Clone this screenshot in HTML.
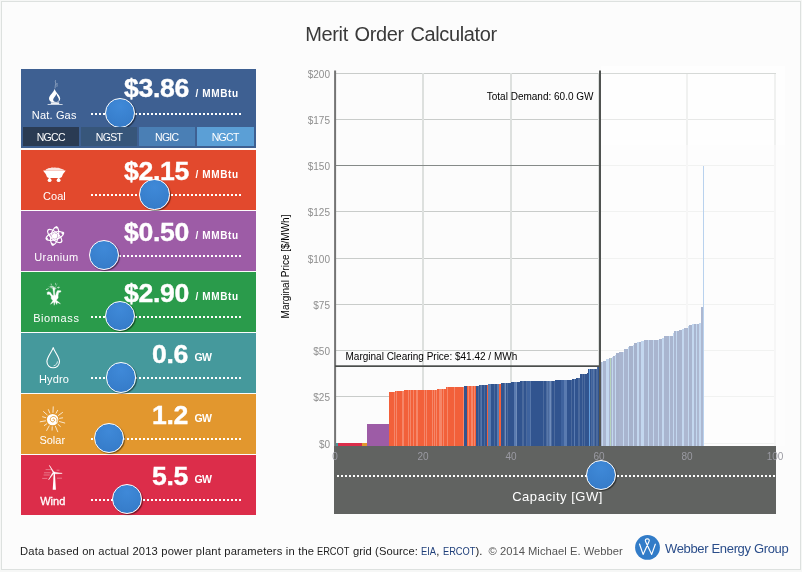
<!DOCTYPE html>
<html><head><meta charset="utf-8"><title>Merit Order Calculator</title>
<style>
html,body{margin:0;padding:0;}
body{width:802px;height:572px;overflow:hidden;background:#f6f7f6;font-family:"Liberation Sans",sans-serif;position:relative;}
#frame{position:absolute;left:1px;top:1px;width:798px;height:567px;border:1px solid #dde1df;background:#fcfcfc;}
#title{position:absolute;left:0;width:802px;top:22.4px;text-align:center;font-size:20px;line-height:24px;color:#3a3a3a;letter-spacing:-0.38px;word-spacing:1.5px;}
.panel{position:absolute;left:21px;width:235px;height:60px;color:#fff;}
.panel .lbl{position:absolute;left:0;width:67px;text-align:center;top:39.5px;font-size:11px;line-height:13px;white-space:nowrap;}
.panel .val{position:absolute;top:5.5px;font-weight:bold;font-size:26.6px;line-height:30px;white-space:nowrap;letter-spacing:-0.3px;-webkit-text-stroke:0.4px #fff;}
.panel .unit{position:absolute;top:17.6px;font-weight:bold;font-size:10px;line-height:13px;white-space:nowrap;letter-spacing:0.62px;}
.panel .gw{top:18px;font-size:10.5px;letter-spacing:-0.6px;}
.panel .dots{position:absolute;left:70px;width:150px;top:44px;height:0;border-top:2px dotted #fff;}
.handle{position:absolute;width:28.4px;height:28.4px;border-radius:50%;border:1px solid #fff;background:radial-gradient(circle at 50% 25%,#3f89d8 0%,#3a82d0 45%,#3479c6 100%);box-shadow:1px 1px 1px rgba(0,0,0,0.5);}
.panel svg{position:absolute;overflow:visible;}
.btn{position:absolute;top:58px;height:19px;width:56.2px;font-size:10.5px;line-height:20.2px;text-align:center;color:#fff;letter-spacing:-0.7px;text-indent:-0.7px;}
#cap{position:absolute;left:334px;top:446px;width:442px;height:68px;background:#616361;}
#cap .dots{position:absolute;left:3px;width:438px;top:29px;height:0;border-top:2px dotted #fff;}
#cap .lbl{position:absolute;left:0;width:442px;top:43px;text-align:center;color:#fff;font-size:13px;line-height:16px;letter-spacing:0.54px;margin-left:2.6px}
#foot{position:absolute;left:20px;top:543.6px;font-size:11.2px;letter-spacing:-0.05px;line-height:14px;color:#222;white-space:nowrap;}
#foot a{color:#1f3f7a;text-decoration:none;}
#foot .c{color:#555;}
#foot .sq{display:inline-block;transform:scaleX(.83);transform-origin:0 50%;}
#weg{position:absolute;left:665px;top:540.8px;font-size:13px;letter-spacing:-0.34px;line-height:16px;color:#2a4d8a;white-space:nowrap;}
svg text{font-family:"Liberation Sans",sans-serif;}
</style></head>
<body>
<div id="frame"></div>
<div id="title">Merit Order Calculator</div>

<!-- chart -->
<svg id="chart" width="802" height="572" viewBox="0 0 802 572" style="position:absolute;left:0;top:0">
<g shape-rendering="crispEdges">
<rect x="335" y="73" width="441" height="1" fill="#c9ccca"/>
<rect x="335" y="119" width="441" height="1" fill="#c9ccca"/>
<rect x="335" y="165" width="441" height="1" fill="#c9ccca"/>
<rect x="335" y="211" width="441" height="1" fill="#c9ccca"/>
<rect x="335" y="258" width="441" height="1" fill="#c9ccca"/>
<rect x="335" y="304" width="441" height="1" fill="#c9ccca"/>
<rect x="335" y="350" width="441" height="1" fill="#c9ccca"/>
<rect x="335" y="396" width="441" height="1" fill="#c9ccca"/>
<rect x="335" y="443" width="441" height="1" fill="#c9ccca"/>
<rect x="422.0" y="73" width="2" height="373" fill="#dde0de"/>
<rect x="510.0" y="73" width="2" height="373" fill="#dde0de"/>
<rect x="598.0" y="73" width="2" height="373" fill="#dde0de"/>
<rect x="686.0" y="73" width="2" height="373" fill="#dde0de"/>
<rect x="774.0" y="73" width="2" height="373" fill="#dde0de"/>
</g>
<rect x="335" y="165" width="265" height="1" fill="#858a88" shape-rendering="crispEdges"/>
<rect x="601" y="66" width="184" height="79" fill="#fff" opacity="0.55"/>
<rect x="601" y="145" width="184" height="301" fill="#fcfcfc" opacity="0.78"/>
<rect x="601" y="73" width="175" height="1" fill="#d6d9d7" shape-rendering="crispEdges"/>
<g shape-rendering="crispEdges">
<rect x="335.00" y="443.00" width="2.60" height="3.30" fill="#45999c"/>
<rect x="337.60" y="443.00" width="24.20" height="3.30" fill="#dc2d4a"/>
<rect x="361.80" y="443.00" width="5.30" height="3.30" fill="#e2972e"/>
<rect x="367.10" y="424.00" width="15.80" height="22.30" fill="#9d5ca6"/>
<rect x="382.90" y="424.00" width="6.40" height="22.30" fill="#9d5ca6"/>
<rect x="389.30" y="392.40" width="5.20" height="53.90" fill="#f2603a"/>
<rect x="394.50" y="391.08" width="2.40" height="55.22" fill="#f2603a"/>
<rect x="396.90" y="390.88" width="1.20" height="55.42" fill="#f2603a"/>
<rect x="398.10" y="390.64" width="3.00" height="55.66" fill="#f2603a"/>
<rect x="401.10" y="390.56" width="0.80" height="55.75" fill="#f2603a"/>
<rect x="401.90" y="390.53" width="1.00" height="55.77" fill="#f2603a"/>
<rect x="402.90" y="390.50" width="1.00" height="55.80" fill="#f2603a"/>
<rect x="403.90" y="390.45" width="2.40" height="55.85" fill="#f2603a"/>
<rect x="406.30" y="390.40" width="0.80" height="55.90" fill="#f2603a"/>
<rect x="407.10" y="390.36" width="1.60" height="55.94" fill="#f2603a"/>
<rect x="408.70" y="390.33" width="0.80" height="55.97" fill="#f2603a"/>
<rect x="409.50" y="390.30" width="1.00" height="56.00" fill="#f2603a"/>
<rect x="410.50" y="390.24" width="3.00" height="56.06" fill="#f2603a"/>
<rect x="413.50" y="390.15" width="3.00" height="56.15" fill="#f2603a"/>
<rect x="416.50" y="390.09" width="1.00" height="56.21" fill="#f2603a"/>
<rect x="417.50" y="390.05" width="1.60" height="56.25" fill="#f2603a"/>
<rect x="419.10" y="390.01" width="1.00" height="56.29" fill="#f2603a"/>
<rect x="420.10" y="389.95" width="3.00" height="56.35" fill="#f2603a"/>
<rect x="423.10" y="389.89" width="0.80" height="56.41" fill="#f2603a"/>
<rect x="423.90" y="389.87" width="1.00" height="56.43" fill="#f2603a"/>
<rect x="424.90" y="389.83" width="1.60" height="56.47" fill="#f2603a"/>
<rect x="426.50" y="389.79" width="0.80" height="56.51" fill="#f2603a"/>
<rect x="427.30" y="389.74" width="3.00" height="56.56" fill="#f2603a"/>
<rect x="430.30" y="389.68" width="0.80" height="56.62" fill="#f2603a"/>
<rect x="431.10" y="389.64" width="1.60" height="56.66" fill="#f2603a"/>
<rect x="432.70" y="389.61" width="0.80" height="56.69" fill="#f2603a"/>
<rect x="433.50" y="389.58" width="1.20" height="56.72" fill="#f2603a"/>
<rect x="434.70" y="389.53" width="2.00" height="56.77" fill="#f2603a"/>
<rect x="436.70" y="389.45" width="3.00" height="56.85" fill="#f2603a"/>
<rect x="439.70" y="389.39" width="1.20" height="56.91" fill="#f2603a"/>
<rect x="440.90" y="389.35" width="1.00" height="56.95" fill="#f2603a"/>
<rect x="441.90" y="389.30" width="2.00" height="57.00" fill="#f2603a"/>
<rect x="443.90" y="389.25" width="1.20" height="57.05" fill="#f2603a"/>
<rect x="445.10" y="389.21" width="1.00" height="57.09" fill="#f2603a"/>
<rect x="446.10" y="387.39" width="1.60" height="58.91" fill="#f2603a"/>
<rect x="447.70" y="387.37" width="2.40" height="58.93" fill="#f2603a"/>
<rect x="450.10" y="387.35" width="1.00" height="58.95" fill="#f2603a"/>
<rect x="451.10" y="387.34" width="1.00" height="58.96" fill="#f2603a"/>
<rect x="452.10" y="387.33" width="0.80" height="58.97" fill="#f2603a"/>
<rect x="452.90" y="387.31" width="1.60" height="58.99" fill="#f2603a"/>
<rect x="454.50" y="387.29" width="3.60" height="59.01" fill="#f2603a"/>
<rect x="458.10" y="387.25" width="3.00" height="59.05" fill="#f2603a"/>
<rect x="461.10" y="387.22" width="2.40" height="59.08" fill="#f2603a"/>
<rect x="463.50" y="387.20" width="0.30" height="59.10" fill="#f2603a"/>
<rect x="463.80" y="386.35" width="3.40" height="59.95" fill="#31548f"/>
<rect x="467.20" y="386.27" width="1.60" height="60.03" fill="#f2603a"/>
<rect x="468.80" y="386.22" width="1.20" height="60.08" fill="#f2603a"/>
<rect x="470.00" y="386.17" width="1.60" height="60.13" fill="#f2603a"/>
<rect x="471.60" y="386.13" width="1.00" height="60.17" fill="#f2603a"/>
<rect x="472.60" y="386.08" width="2.00" height="60.22" fill="#f2603a"/>
<rect x="474.60" y="386.02" width="1.80" height="60.28" fill="#f2603a"/>
<rect x="476.40" y="385.68" width="2.40" height="60.62" fill="#31548f"/>
<rect x="478.80" y="385.24" width="2.00" height="61.06" fill="#31548f"/>
<rect x="480.80" y="385.10" width="1.00" height="61.20" fill="#3f639e"/>
<rect x="481.80" y="384.94" width="3.00" height="61.36" fill="#31548f"/>
<rect x="484.80" y="384.72" width="2.40" height="61.58" fill="#31548f"/>
<rect x="487.20" y="384.58" width="1.00" height="61.72" fill="#f2603a"/>
<rect x="488.20" y="384.42" width="3.00" height="61.88" fill="#5a7bb0"/>
<rect x="491.20" y="384.26" width="1.00" height="62.04" fill="#31548f"/>
<rect x="492.20" y="384.13" width="2.40" height="62.17" fill="#31548f"/>
<rect x="494.60" y="383.94" width="2.40" height="62.36" fill="#31548f"/>
<rect x="497.00" y="383.75" width="2.20" height="62.55" fill="#5a7bb0"/>
<rect x="499.20" y="383.62" width="1.00" height="62.68" fill="#f2603a"/>
<rect x="500.20" y="383.54" width="0.70" height="62.76" fill="#f2603a"/>
<rect x="500.90" y="383.30" width="3.60" height="63.00" fill="#31548f"/>
<rect x="504.50" y="383.05" width="1.00" height="63.25" fill="#5a7bb0"/>
<rect x="505.50" y="382.88" width="2.00" height="63.42" fill="#31548f"/>
<rect x="507.50" y="382.58" width="3.60" height="63.72" fill="#31548f"/>
<rect x="511.10" y="382.21" width="3.00" height="64.09" fill="#31548f"/>
<rect x="514.10" y="381.92" width="2.40" height="64.38" fill="#5a7bb0"/>
<rect x="516.50" y="381.59" width="3.60" height="64.71" fill="#31548f"/>
<rect x="520.10" y="381.38" width="1.00" height="64.92" fill="#31548f"/>
<rect x="521.10" y="381.34" width="1.60" height="64.96" fill="#31548f"/>
<rect x="522.70" y="381.30" width="1.20" height="65.00" fill="#31548f"/>
<rect x="523.90" y="381.24" width="3.00" height="65.06" fill="#31548f"/>
<rect x="526.90" y="381.14" width="3.60" height="65.16" fill="#3f639e"/>
<rect x="530.50" y="381.03" width="3.60" height="65.27" fill="#31548f"/>
<rect x="534.10" y="380.95" width="2.00" height="65.35" fill="#31548f"/>
<rect x="536.10" y="380.87" width="3.00" height="65.43" fill="#31548f"/>
<rect x="539.10" y="380.80" width="2.00" height="65.50" fill="#31548f"/>
<rect x="541.10" y="380.75" width="2.40" height="65.55" fill="#31548f"/>
<rect x="543.50" y="380.70" width="3.00" height="65.60" fill="#31548f"/>
<rect x="546.50" y="380.66" width="1.20" height="65.64" fill="#3f639e"/>
<rect x="547.70" y="380.63" width="1.20" height="65.67" fill="#31548f"/>
<rect x="548.90" y="380.61" width="1.60" height="65.69" fill="#5a7bb0"/>
<rect x="550.50" y="380.58" width="1.20" height="65.72" fill="#31548f"/>
<rect x="551.70" y="380.56" width="0.80" height="65.74" fill="#31548f"/>
<rect x="552.50" y="380.53" width="2.40" height="65.77" fill="#31548f"/>
<rect x="554.90" y="380.48" width="2.40" height="65.82" fill="#31548f"/>
<rect x="557.30" y="380.45" width="0.80" height="65.85" fill="#31548f"/>
<rect x="558.10" y="380.41" width="3.00" height="65.89" fill="#31548f"/>
<rect x="561.10" y="380.19" width="3.00" height="66.11" fill="#3f639e"/>
<rect x="564.10" y="379.95" width="3.00" height="66.35" fill="#5a7bb0"/>
<rect x="567.10" y="379.79" width="1.00" height="66.51" fill="#31548f"/>
<rect x="568.10" y="379.61" width="3.60" height="66.69" fill="#31548f"/>
<rect x="571.70" y="379.09" width="2.40" height="67.21" fill="#31548f"/>
<rect x="574.10" y="378.79" width="1.00" height="67.51" fill="#5a7bb0"/>
<rect x="575.10" y="378.60" width="1.20" height="67.70" fill="#31548f"/>
<rect x="576.30" y="378.29" width="2.40" height="68.01" fill="#31548f"/>
<rect x="578.70" y="378.02" width="1.00" height="68.28" fill="#31548f"/>
<rect x="579.70" y="374.32" width="3.00" height="71.98" fill="#31548f"/>
<rect x="582.70" y="374.21" width="2.00" height="72.09" fill="#31548f"/>
<rect x="584.70" y="373.74" width="2.40" height="72.56" fill="#31548f"/>
<rect x="587.10" y="373.34" width="1.00" height="72.96" fill="#31548f"/>
<rect x="588.10" y="369.36" width="3.60" height="76.94" fill="#31548f"/>
<rect x="591.70" y="369.22" width="2.00" height="77.08" fill="#3f639e"/>
<rect x="593.70" y="369.14" width="1.00" height="77.16" fill="#31548f"/>
<rect x="594.70" y="369.06" width="2.00" height="77.24" fill="#31548f"/>
<rect x="596.70" y="366.18" width="1.20" height="80.12" fill="#31548f"/>
<rect x="597.90" y="366.09" width="1.60" height="80.21" fill="#31548f"/>
<rect x="599.50" y="366.02" width="0.50" height="80.28" fill="#31548f"/>
<rect x="588.60" y="369.38" width="1.20" height="76.92" fill="#4a8fd8"/>
<rect x="600.60" y="362.00" width="1.80" height="84.30" fill="#a6b2cc"/>
<rect x="602.40" y="361.81" width="1.00" height="84.49" fill="#c3d7ef"/>
<rect x="603.40" y="360.66" width="3.00" height="85.64" fill="#a9b5cf"/>
<rect x="606.40" y="359.21" width="2.60" height="87.09" fill="#c3d7ef"/>
<rect x="609.00" y="358.00" width="3.00" height="88.30" fill="#a9b5cf"/>
<rect x="612.00" y="356.92" width="1.20" height="89.38" fill="#c3d7ef"/>
<rect x="613.20" y="355.88" width="1.40" height="90.42" fill="#a9b5cf"/>
<rect x="614.60" y="354.91" width="1.00" height="91.39" fill="#c3d7ef"/>
<rect x="615.60" y="353.04" width="3.00" height="93.26" fill="#a6b2cc"/>
<rect x="618.60" y="352.10" width="0.80" height="94.20" fill="#c3d7ef"/>
<rect x="619.40" y="351.88" width="3.60" height="94.42" fill="#a9b5cf"/>
<rect x="623.00" y="351.64" width="1.20" height="94.66" fill="#c3d7ef"/>
<rect x="624.20" y="348.99" width="4.20" height="97.31" fill="#a9b5cf"/>
<rect x="628.40" y="347.34" width="1.00" height="98.96" fill="#c3d7ef"/>
<rect x="629.40" y="346.26" width="3.60" height="100.04" fill="#a6b2cc"/>
<rect x="633.00" y="344.67" width="0.80" height="101.63" fill="#c3d7ef"/>
<rect x="633.80" y="343.09" width="3.60" height="103.21" fill="#a6b2cc"/>
<rect x="637.40" y="342.20" width="1.20" height="104.10" fill="#c3d7ef"/>
<rect x="638.60" y="341.63" width="2.60" height="104.67" fill="#a9b5cf"/>
<rect x="641.20" y="341.10" width="2.60" height="105.20" fill="#c3d7ef"/>
<rect x="643.80" y="340.42" width="4.20" height="105.88" fill="#a9b5cf"/>
<rect x="648.00" y="340.24" width="0.80" height="106.06" fill="#c3d7ef"/>
<rect x="648.80" y="340.07" width="4.20" height="106.23" fill="#a9b5cf"/>
<rect x="653.00" y="339.90" width="1.00" height="106.40" fill="#c3d7ef"/>
<rect x="654.00" y="339.71" width="4.20" height="106.59" fill="#a9b5cf"/>
<rect x="658.20" y="339.50" width="1.00" height="106.80" fill="#c3d7ef"/>
<rect x="659.20" y="339.17" width="2.60" height="107.13" fill="#a9b5cf"/>
<rect x="661.80" y="338.00" width="2.60" height="108.30" fill="#c3d7ef"/>
<rect x="664.40" y="336.27" width="4.20" height="110.03" fill="#a9b5cf"/>
<rect x="668.60" y="335.79" width="1.00" height="110.51" fill="#c3d7ef"/>
<rect x="669.60" y="335.56" width="3.60" height="110.74" fill="#a9b5cf"/>
<rect x="673.20" y="332.88" width="0.80" height="113.42" fill="#c3d7ef"/>
<rect x="674.00" y="331.09" width="2.20" height="115.21" fill="#a9b5cf"/>
<rect x="676.20" y="330.95" width="0.60" height="115.35" fill="#c3d7ef"/>
<rect x="676.80" y="330.83" width="1.80" height="115.47" fill="#a9b5cf"/>
<rect x="678.60" y="330.70" width="0.80" height="115.60" fill="#c3d7ef"/>
<rect x="679.40" y="330.40" width="2.20" height="115.90" fill="#a9b5cf"/>
<rect x="681.60" y="329.44" width="2.60" height="116.86" fill="#c3d7ef"/>
<rect x="684.20" y="328.08" width="4.20" height="118.22" fill="#adb8d1"/>
<rect x="688.40" y="326.41" width="1.00" height="119.89" fill="#c3d7ef"/>
<rect x="689.40" y="324.93" width="3.00" height="121.37" fill="#a9b5cf"/>
<rect x="692.40" y="324.30" width="1.20" height="122.00" fill="#c3d7ef"/>
<rect x="693.60" y="323.93" width="2.20" height="122.37" fill="#a9b5cf"/>
<rect x="695.80" y="323.76" width="1.20" height="122.54" fill="#c3d7ef"/>
<rect x="697.00" y="323.61" width="1.80" height="122.69" fill="#adb8d1"/>
<rect x="698.80" y="323.43" width="2.60" height="122.87" fill="#c3d7ef"/>
<rect x="701.40" y="307.00" width="1.20" height="139.30" fill="#adb8d1"/>
<rect x="610.30" y="357.96" width="0.80" height="88.34" fill="#b6d3bc"/>
<rect x="702.60" y="165.50" width="1.00" height="280.80" fill="#b9d2ee"/>
<rect x="394.05" y="392.40" width="0.45" height="53.90" fill="#fff" opacity="0.24"/>
<rect x="396.45" y="391.08" width="0.45" height="55.22" fill="#fff" opacity="0.24"/>
<rect x="397.65" y="390.88" width="0.45" height="55.42" fill="#fff" opacity="0.24"/>
<rect x="400.65" y="390.64" width="0.45" height="55.66" fill="#fff" opacity="0.24"/>
<rect x="402.45" y="390.53" width="0.45" height="55.77" fill="#fff" opacity="0.24"/>
<rect x="403.45" y="390.50" width="0.45" height="55.80" fill="#fff" opacity="0.24"/>
<rect x="405.85" y="390.45" width="0.45" height="55.85" fill="#fff" opacity="0.24"/>
<rect x="408.25" y="390.36" width="0.45" height="55.94" fill="#fff" opacity="0.24"/>
<rect x="410.05" y="390.30" width="0.45" height="56.00" fill="#fff" opacity="0.24"/>
<rect x="413.05" y="390.24" width="0.45" height="56.06" fill="#fff" opacity="0.24"/>
<rect x="416.05" y="390.15" width="0.45" height="56.15" fill="#fff" opacity="0.24"/>
<rect x="417.05" y="390.09" width="0.45" height="56.21" fill="#fff" opacity="0.24"/>
<rect x="418.65" y="390.05" width="0.45" height="56.25" fill="#fff" opacity="0.24"/>
<rect x="419.65" y="390.01" width="0.45" height="56.29" fill="#fff" opacity="0.24"/>
<rect x="422.65" y="389.95" width="0.45" height="56.35" fill="#fff" opacity="0.24"/>
<rect x="424.45" y="389.87" width="0.45" height="56.43" fill="#fff" opacity="0.24"/>
<rect x="426.05" y="389.83" width="0.45" height="56.47" fill="#fff" opacity="0.24"/>
<rect x="429.85" y="389.74" width="0.45" height="56.56" fill="#fff" opacity="0.24"/>
<rect x="432.25" y="389.64" width="0.45" height="56.66" fill="#fff" opacity="0.24"/>
<rect x="434.25" y="389.58" width="0.45" height="56.72" fill="#fff" opacity="0.24"/>
<rect x="436.25" y="389.53" width="0.45" height="56.77" fill="#fff" opacity="0.24"/>
<rect x="439.25" y="389.45" width="0.45" height="56.85" fill="#fff" opacity="0.24"/>
<rect x="440.45" y="389.39" width="0.45" height="56.91" fill="#fff" opacity="0.24"/>
<rect x="441.45" y="389.35" width="0.45" height="56.95" fill="#fff" opacity="0.24"/>
<rect x="443.45" y="389.30" width="0.45" height="57.00" fill="#fff" opacity="0.24"/>
<rect x="444.65" y="389.25" width="0.45" height="57.05" fill="#fff" opacity="0.24"/>
<rect x="445.65" y="389.21" width="0.45" height="57.09" fill="#fff" opacity="0.24"/>
<rect x="447.25" y="387.39" width="0.45" height="58.91" fill="#fff" opacity="0.24"/>
<rect x="449.65" y="387.37" width="0.45" height="58.93" fill="#fff" opacity="0.24"/>
<rect x="450.65" y="387.35" width="0.45" height="58.95" fill="#fff" opacity="0.24"/>
<rect x="451.65" y="387.34" width="0.45" height="58.96" fill="#fff" opacity="0.24"/>
<rect x="454.05" y="387.31" width="0.45" height="58.99" fill="#fff" opacity="0.24"/>
<rect x="457.65" y="387.29" width="0.45" height="59.01" fill="#fff" opacity="0.24"/>
<rect x="460.65" y="387.25" width="0.45" height="59.05" fill="#fff" opacity="0.24"/>
<rect x="463.05" y="387.22" width="0.45" height="59.08" fill="#fff" opacity="0.24"/>
<rect x="466.75" y="386.35" width="0.45" height="59.95" fill="#fff" opacity="0.13"/>
<rect x="468.35" y="386.27" width="0.45" height="60.03" fill="#fff" opacity="0.24"/>
<rect x="469.55" y="386.22" width="0.45" height="60.08" fill="#fff" opacity="0.24"/>
<rect x="471.15" y="386.17" width="0.45" height="60.13" fill="#fff" opacity="0.24"/>
<rect x="472.15" y="386.13" width="0.45" height="60.17" fill="#fff" opacity="0.24"/>
<rect x="474.15" y="386.08" width="0.45" height="60.22" fill="#fff" opacity="0.24"/>
<rect x="475.95" y="386.02" width="0.45" height="60.28" fill="#fff" opacity="0.24"/>
<rect x="478.35" y="385.68" width="0.45" height="60.62" fill="#fff" opacity="0.13"/>
<rect x="480.35" y="385.24" width="0.45" height="61.06" fill="#fff" opacity="0.13"/>
<rect x="481.35" y="385.10" width="0.45" height="61.20" fill="#fff" opacity="0.13"/>
<rect x="484.35" y="384.94" width="0.45" height="61.36" fill="#fff" opacity="0.13"/>
<rect x="486.75" y="384.72" width="0.45" height="61.58" fill="#fff" opacity="0.13"/>
<rect x="487.75" y="384.58" width="0.45" height="61.72" fill="#fff" opacity="0.24"/>
<rect x="490.75" y="384.42" width="0.45" height="61.88" fill="#fff" opacity="0.13"/>
<rect x="491.75" y="384.26" width="0.45" height="62.04" fill="#fff" opacity="0.13"/>
<rect x="494.15" y="384.13" width="0.45" height="62.17" fill="#fff" opacity="0.13"/>
<rect x="496.55" y="383.94" width="0.45" height="62.36" fill="#fff" opacity="0.13"/>
<rect x="498.75" y="383.75" width="0.45" height="62.55" fill="#fff" opacity="0.13"/>
<rect x="499.75" y="383.62" width="0.45" height="62.68" fill="#fff" opacity="0.24"/>
<rect x="504.05" y="383.30" width="0.45" height="63.00" fill="#fff" opacity="0.13"/>
<rect x="505.05" y="383.05" width="0.45" height="63.25" fill="#fff" opacity="0.13"/>
<rect x="507.05" y="382.88" width="0.45" height="63.42" fill="#fff" opacity="0.13"/>
<rect x="510.65" y="382.58" width="0.45" height="63.72" fill="#fff" opacity="0.13"/>
<rect x="513.65" y="382.21" width="0.45" height="64.09" fill="#fff" opacity="0.13"/>
<rect x="516.05" y="381.92" width="0.45" height="64.38" fill="#fff" opacity="0.13"/>
<rect x="519.65" y="381.59" width="0.45" height="64.71" fill="#fff" opacity="0.13"/>
<rect x="520.65" y="381.38" width="0.45" height="64.92" fill="#fff" opacity="0.13"/>
<rect x="522.25" y="381.34" width="0.45" height="64.96" fill="#fff" opacity="0.13"/>
<rect x="523.45" y="381.30" width="0.45" height="65.00" fill="#fff" opacity="0.13"/>
<rect x="526.45" y="381.24" width="0.45" height="65.06" fill="#fff" opacity="0.13"/>
<rect x="530.05" y="381.14" width="0.45" height="65.16" fill="#fff" opacity="0.13"/>
<rect x="533.65" y="381.03" width="0.45" height="65.27" fill="#fff" opacity="0.13"/>
<rect x="535.65" y="380.95" width="0.45" height="65.35" fill="#fff" opacity="0.13"/>
<rect x="538.65" y="380.87" width="0.45" height="65.43" fill="#fff" opacity="0.13"/>
<rect x="540.65" y="380.80" width="0.45" height="65.50" fill="#fff" opacity="0.13"/>
<rect x="543.05" y="380.75" width="0.45" height="65.55" fill="#fff" opacity="0.13"/>
<rect x="546.05" y="380.70" width="0.45" height="65.60" fill="#fff" opacity="0.13"/>
<rect x="547.25" y="380.66" width="0.45" height="65.64" fill="#fff" opacity="0.13"/>
<rect x="548.45" y="380.63" width="0.45" height="65.67" fill="#fff" opacity="0.13"/>
<rect x="550.05" y="380.61" width="0.45" height="65.69" fill="#fff" opacity="0.13"/>
<rect x="551.25" y="380.58" width="0.45" height="65.72" fill="#fff" opacity="0.13"/>
<rect x="554.45" y="380.53" width="0.45" height="65.77" fill="#fff" opacity="0.13"/>
<rect x="556.85" y="380.48" width="0.45" height="65.82" fill="#fff" opacity="0.13"/>
<rect x="560.65" y="380.41" width="0.45" height="65.89" fill="#fff" opacity="0.13"/>
<rect x="563.65" y="380.19" width="0.45" height="66.11" fill="#fff" opacity="0.13"/>
<rect x="566.65" y="379.95" width="0.45" height="66.35" fill="#fff" opacity="0.13"/>
<rect x="567.65" y="379.79" width="0.45" height="66.51" fill="#fff" opacity="0.13"/>
<rect x="571.25" y="379.61" width="0.45" height="66.69" fill="#fff" opacity="0.13"/>
<rect x="573.65" y="379.09" width="0.45" height="67.21" fill="#fff" opacity="0.13"/>
<rect x="574.65" y="378.79" width="0.45" height="67.51" fill="#fff" opacity="0.13"/>
<rect x="575.85" y="378.60" width="0.45" height="67.70" fill="#fff" opacity="0.13"/>
<rect x="578.25" y="378.29" width="0.45" height="68.01" fill="#fff" opacity="0.13"/>
<rect x="579.25" y="378.02" width="0.45" height="68.28" fill="#fff" opacity="0.13"/>
<rect x="582.25" y="374.32" width="0.45" height="71.98" fill="#fff" opacity="0.13"/>
<rect x="584.25" y="374.21" width="0.45" height="72.09" fill="#fff" opacity="0.13"/>
<rect x="586.65" y="373.74" width="0.45" height="72.56" fill="#fff" opacity="0.13"/>
<rect x="587.65" y="373.34" width="0.45" height="72.96" fill="#fff" opacity="0.13"/>
<rect x="591.25" y="369.36" width="0.45" height="76.94" fill="#fff" opacity="0.13"/>
<rect x="593.25" y="369.22" width="0.45" height="77.08" fill="#fff" opacity="0.13"/>
<rect x="594.25" y="369.14" width="0.45" height="77.16" fill="#fff" opacity="0.13"/>
<rect x="596.25" y="369.06" width="0.45" height="77.24" fill="#fff" opacity="0.13"/>
<rect x="597.45" y="366.18" width="0.45" height="80.12" fill="#fff" opacity="0.13"/>
<rect x="599.05" y="366.09" width="0.45" height="80.21" fill="#fff" opacity="0.13"/>
<rect x="589.35" y="369.38" width="0.45" height="76.92" fill="#fff" opacity="0.13"/>
<rect x="383.6" y="424" width="0.5" height="22.3" fill="#fff" opacity="0.3"/>
</g>
<rect x="334.1" y="70.5" width="2" height="376" fill="#747474"/>
<rect x="335" y="365.3" width="265" height="1.7" fill="#4b4e4c"/>
<rect x="599" y="70.5" width="2" height="376" fill="#505351"/>
<g font-size="10" fill="#8e8e8e">
<text x="330" y="77.50" text-anchor="end">$200</text>
<text x="330" y="123.50" text-anchor="end">$175</text>
<text x="330" y="169.50" text-anchor="end">$150</text>
<text x="330" y="215.50" text-anchor="end">$125</text>
<text x="330" y="262.50" text-anchor="end">$100</text>
<text x="330" y="308.50" text-anchor="end">$75</text>
<text x="330" y="354.50" text-anchor="end">$50</text>
<text x="330" y="400.50" text-anchor="end">$25</text>
<text x="330" y="447.50" text-anchor="end">$0</text>
</g>
<text x="593.5" y="100" text-anchor="end" font-size="10" fill="#000">Total Demand: 60.0 GW</text>
<text x="345.5" y="360.2" font-size="10" fill="#000">Marginal Clearing Price: $41.42 / MWh</text>
<text transform="translate(288.5,266.5) rotate(-90)" text-anchor="middle" font-size="10" fill="#000">Marginal Price [$/MWh]</text>
</svg>

<div id="cap"><div class="dots"></div><div class="lbl">Capacity [GW]</div></div>
<svg width="802" height="572" viewBox="0 0 802 572" style="position:absolute;left:0;top:0;pointer-events:none">
<g font-size="10" fill="#9a9aa2">
<text x="335.00" y="460.2" text-anchor="middle">0</text>
<text x="423.00" y="460.2" text-anchor="middle">20</text>
<text x="511.00" y="460.2" text-anchor="middle">40</text>
<text x="599.00" y="460.2" text-anchor="middle">60</text>
<text x="687.00" y="460.2" text-anchor="middle">80</text>
<text x="775.00" y="460.2" text-anchor="middle">100</text>
</g>
</svg>
<div class="handle" style="left:585.8px;top:459.6px"></div>

<!-- panels -->
<div class="panel" style="top:69px;height:79px;background:#3e6092">
  <div class="lbl" style="letter-spacing:0.16px;margin-left:-0.3px">Nat. Gas</div>
  <div class="val" style="left:103px;top:4px">$3.86</div><div class="unit" style="left:174.5px">/ MMBtu</div>
  <div class="dots"></div><div class="handle" style="left:83.8px;top:29px"></div>
  <div class="btn" style="left:2px;background:#2a3b53">NGCC</div>
  <div class="btn" style="left:60.3px;background:#37567a">NGST</div>
  <div class="btn" style="left:118px;background:#4a7fb5">NGIC</div>
  <div class="btn" style="left:176px;width:57px;background:#5b9fd6">NGCT</div>
</div>
<div class="panel" style="top:150px;background:#e2492d">
  <div class="lbl" style="letter-spacing:0.1px;margin-left:-0.1px">Coal</div>
  <div class="val" style="left:103px">$2.15</div><div class="unit" style="left:174.5px">/ MMBtu</div>
  <div class="dots"></div><div class="handle" style="left:118.3px;top:29.2px"></div>
</div>
<div class="panel" style="top:211px;background:#9d5ca6">
  <div class="lbl" style="letter-spacing:0.41px;margin-left:1.95px">Uranium</div>
  <div class="val" style="left:103px">$0.50</div><div class="unit" style="left:174.5px">/ MMBtu</div>
  <div class="dots"></div><div class="handle" style="left:68px;top:28.8px"></div>
</div>
<div class="panel" style="top:272px;background:#2a9b4b">
  <div class="lbl" style="letter-spacing:0.6px;margin-left:1.85px">Biomass</div>
  <div class="val" style="left:103px">$2.90</div><div class="unit" style="left:174.5px">/ MMBtu</div>
  <div class="dots"></div><div class="handle" style="left:83.7px;top:29.1px"></div>
</div>
<div class="panel" style="top:333px;background:#45999c">
  <div class="lbl" style="letter-spacing:0.18px;margin-left:-0.5px">Hydro</div>
  <div class="val" style="left:131px">0.6</div><div class="unit gw" style="left:173.5px">GW</div>
  <div class="dots"></div><div class="handle" style="left:84.8px;top:29.2px"></div>
</div>
<div class="panel" style="top:394px;background:#e2972e">
  <div class="lbl" style="margin-left:-2.25px">Solar</div>
  <div class="val" style="left:131px">1.2</div><div class="unit gw" style="left:173.5px">GW</div>
  <div class="dots"></div><div class="handle" style="left:72.8px;top:28.8px"></div>
</div>
<div class="panel" style="top:455px;background:#dc2d4a">
  <div class="lbl" style="margin-left:-1.75px;-webkit-text-stroke:0.3px #fff">Wind</div>
  <div class="val" style="left:131px">5.5</div><div class="unit gw" style="left:173.5px">GW</div>
  <div class="dots"></div><div class="handle" style="left:90.9px;top:29.1px"></div>
</div>


<svg id="icons" width="802" height="572" viewBox="0 0 802 572" style="position:absolute;left:0;top:0;pointer-events:none">
<!-- gas flame -->
<g>
<path d="M55.6 80.2C54.6 82 56.6 83.4 55.4 85.2C54.8 86.2 55.6 87.2 55 88.4M57.2 83C56.4 84.4 57.6 85.4 56.8 86.8" fill="none" stroke="#fff" stroke-opacity="0.55" stroke-width="0.7"/>
<path d="M54.6 88.8C55.6 93 60.2 95 60.2 98.8C60.2 101.2 58 102.6 54.6 102.6C51.2 102.6 49 101.2 49 98.8C49 95 53.6 93 54.6 88.8Z" fill="#fff"/>
<path d="M56.3 93.8C57 96.4 58.9 97.6 58.9 99.6C58.9 101.2 57.8 102 56.2 102C54.2 102 52.8 100.8 53.2 99.2C53.7 97.4 55.7 96.4 56.3 93.8Z" fill="#3e6092"/>
<rect x="50.8" y="102.4" width="8.4" height="1.5" fill="#fff"/>
<rect x="47.6" y="104.2" width="15" height="0.8" fill="#fff" opacity="0.9"/>
</g>
<!-- coal cart -->
<g fill="#fff">
<path d="M43.2 170.4H65.6C65.2 172 63.4 173 62.8 174.6C62.2 176.4 61.6 178 60 178H48.8C47.2 178 46.6 176.4 46 174.6C45.4 173 43.6 172 43.2 170.4Z"/>
<path d="M45.4 170.4C45.8 169 47.4 169.2 48 168.6C48.8 167.6 50.4 168.2 51 167.8C52 167 53.4 167.8 54.2 167.6C55.2 167 56.6 167.8 57.4 167.8C58.6 167.6 59.6 168.4 60.4 168.4C61.6 168.4 62.4 169.2 63.4 169.4C64 169.6 64.2 170 64.2 170.4Z" opacity="0.85"/>
<circle cx="49.6" cy="180.2" r="1.9"/><circle cx="58.6" cy="180.2" r="1.9"/>
<rect x="49" y="177.5" width="1.2" height="2"/><rect x="58" y="177.5" width="1.2" height="2"/>
</g>
<!-- atom -->
<g fill="none" stroke="#fff" stroke-width="1.2" transform="rotate(12 54.7 236)">
<ellipse cx="54.7" cy="236" rx="9" ry="3.7" transform="rotate(90 54.7 236)"/>
<ellipse cx="54.7" cy="236" rx="9" ry="3.7" transform="rotate(30 54.7 236)"/>
<ellipse cx="54.7" cy="236" rx="9" ry="3.7" transform="rotate(-30 54.7 236)"/>
<circle cx="54.7" cy="236" r="2.9" fill="#fff" stroke="none"/>
<circle cx="54.7" cy="227.2" r="1.2" fill="#fff" stroke="none"/>
<circle cx="62.1" cy="231.6" r="1.4" fill="#fff" stroke="none"/>
<circle cx="47.5" cy="240.2" r="1.1" fill="#fff" stroke="none"/>
<circle cx="54.5" cy="244.7" r="1.3" fill="#fff" stroke="none"/>
</g>
<!-- biomass plant -->
<g fill="#fff" stroke="none">
<path d="M47.08 292.42L48.65 291.74L50.49 292.42L51.27 293.73L52.32 295.30L53.74 295.57L53.37 292.16L52.85 288.49L53.74 287.44L54.68 288.49L54.58 292.16L54.94 295.30L55.73 295.30L56.52 292.16L57.57 290.59L60.98 290.85L60.71 292.05L58.62 292.42L58.09 295.30L58.09 297.93L56.26 300.29L57.30 301.07L60.45 303.69L57.30 302.38L56.78 304.48L55.21 301.60L54.16 305.27L53.74 302.12L50.49 304.22L52.85 300.55L51.27 298.71L51.12 296.09L49.44 294.26L47.34 294.52Z" stroke="#fff" stroke-width="0.4" stroke-linejoin="round"/>
<path d="M50.75 282.72L51.96 285.08L51.12 284.82ZM55.47 282.46L55.99 284.55L54.94 284.55ZM45.77 289.27L48.39 288.23L48.91 288.75L46.55 289.96ZM57.04 287.33L60.19 287.18L58.35 288.38Z" opacity="0.85"/>
<path d="M49.44 286.13L52.59 285.87L54.68 286.91L55.73 287.44L56.26 289.01L54.16 290.06L52.32 288.49L50.49 287.18Z" opacity="0.6"/>
<path d="M52.6 287L50.2 284.4M55.6 287L57.2 283.6M51.6 288.4L48.6 286.6M56.4 288.4L59.4 286.2" stroke="#fff" stroke-width="0.5" stroke-opacity="0.6" fill="none"/>
</g>
<!-- drop -->
<g fill="none" stroke="#fff" stroke-linejoin="round">
<path d="M53.2 347.6C54.6 352 59.5 357.2 59.5 361.6C59.5 365.2 56.7 367.8 53.2 367.8C49.7 367.8 46.9 365.2 46.9 361.6C46.9 357.2 51.8 352 53.2 347.6Z" stroke-width="1.1"/>
<path d="M57.4 361.4C57.4 363.6 55.8 365.6 53.6 365.8" stroke-width="0.9" stroke-opacity="0.85"/>
</g>
<!-- sun -->
<g>
<path d="M52.96 412.41L53.24 406.82M56.04 413.28L57.62 410.38M58.45 415.40L62.51 412.48M59.69 418.35L62.65 417.83M59.53 421.55L64.73 423.01M58.00 424.36L60.40 426.48M55.40 426.24L57.73 431.76M52.24 426.79L52.07 430.19M49.16 425.92L46.67 430.49M46.75 423.80L44.32 425.55M45.51 420.85L40.19 421.79M45.67 417.65L42.59 416.78M47.20 414.84L43.45 411.53M49.80 412.96L48.41 409.65" stroke="#fff" stroke-width="0.8" stroke-opacity="0.95" fill="none" stroke-linecap="round"/>
<circle cx="52.6" cy="419.6" r="5.7" fill="#fff"/>
<path d="M52.8 420C52.6 418.9 54.2 418.7 54.5 419.9C54.9 421.5 52.6 422.6 51.2 421.4C49.4 419.8 50.6 416.6 53.2 416.5C56.2 416.4 57.8 419.6 56.6 422.2" fill="none" stroke="#e2972e" stroke-width="0.85"/>
</g>
<!-- wind turbine -->
<g>
<path d="M53.7 473H54.9L55.9 489.8H52.7Z" fill="#fff"/>
<path d="M54.3 472.6L49.4 465.4L53 472.2ZM54.3 472.2L62.2 473.4L54.3 473.8ZM54 473L48.6 479.8L52.8 472.6Z" fill="#fff" stroke="#fff" stroke-width="0.5"/>
<circle cx="54.2" cy="472.8" r="1.1" fill="#fff"/>
<path d="M45.6 469.6H51.4M44 472.8H50.6M43.6 475H49.8M42.2 478.4H47.4M56.6 470.2H59.4M57 478.2H62" stroke="#fff" stroke-opacity="0.5" stroke-width="0.7" fill="none"/>
</g>
</svg>
<div id="foot"><span style="letter-spacing:0.17px">Data based on actual 2013 power plant parameters in the </span><span class="sq" style="margin-right:-6.7px">ERCOT</span><span style="letter-spacing:0.08px"> grid (Source: </span><a class="sq" style="transform:scaleX(.838);margin-right:-2.9px">EIA</a><span style="letter-spacing:0.35px">, </span><a class="sq" style="margin-right:-6.5px">ERCOT</a>). <span class="c" style="letter-spacing:0.03px">&nbsp;© 2014 Michael E. Webber</span></div>
<svg width="30" height="30" viewBox="632 532 30 30" style="position:absolute;left:632px;top:532px">
<circle cx="647.5" cy="547.4" r="12.4" fill="#327cc8"/>
<path d="M639.5 544L643.1 554.4L648.8 542C650 539.5 648.7 538.9 647.3 538.9C645.9 538.9 644.6 539.5 645.8 542L651.7 554.4L655.3 544.2" fill="none" stroke="#fff" stroke-width="1.15" stroke-linejoin="round" stroke-linecap="round"/>
</svg>
<div id="weg">Webber Energy Group</div>
</body></html>
